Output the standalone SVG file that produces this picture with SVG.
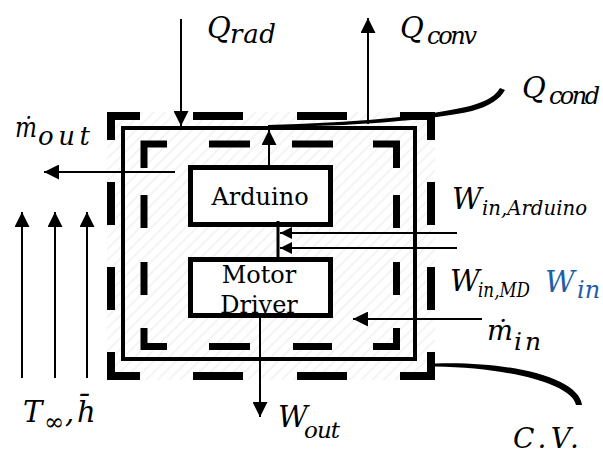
<svg xmlns="http://www.w3.org/2000/svg" width="603" height="454" viewBox="0 0 603 454">
<style>
  .m { font-family: "DejaVu Serif", "Liberation Serif", serif; font-style: italic; font-size: 29px; fill: #000; }
  .s { font-family: "DejaVu Serif", "Liberation Serif", serif; font-style: italic; font-size: 22px; fill: #000; }
  .blue { fill: #1F5FAA; }
  .bt { font-family: "DejaVu Serif", "Liberation Serif", serif; font-size: 24px; text-anchor: middle; fill: #000; }
  .cv-outer { fill: none; stroke: #000; stroke-width: 8; stroke-linejoin: miter; }
  .cv-inner { fill: none; stroke: #000; stroke-width: 7; stroke-linejoin: miter; }
  .solid { fill: none; stroke: #000; stroke-width: 4; }
  .box { fill: #fff; stroke: #000; stroke-width: 5; }
  .arr { fill: none; stroke: #000; stroke-width: 2; marker-end: url(#ah); }
  .arrs { fill: none; stroke: #000; stroke-width: 2; marker-end: url(#ahs); }
</style>
<defs>
  <marker id="ah" viewBox="0 0 10 10" refX="10" refY="5" markerWidth="15" markerHeight="15" markerUnits="userSpaceOnUse" orient="auto">
    <path d="M0,0 L10,5 L0,10 z" fill="#000"/>
  </marker>
  <marker id="ahs" viewBox="0 0 10 10" refX="10" refY="5" markerWidth="12" markerHeight="13" markerUnits="userSpaceOnUse" orient="auto">
    <path d="M0,0 L10,5 L0,10 z" fill="#000"/>
  </marker>
  <pattern id="hatch" patternUnits="userSpaceOnUse" width="8" height="8" patternTransform="rotate(-45)">
    <path d="M0,4 H8" stroke="#e9e9e9" stroke-width="1"/>
  </pattern>
</defs>
<rect width="603" height="454" fill="#fff"/>

<g id="control-volume">
  <rect x="107" y="112" width="328" height="268" fill="url(#hatch)"/>
  <path class="cv-outer" d="M111,140 V116 H140 M193,116 H243 M297,116 H347 M400,116 H431 V140 M431,182 V225 M431,267 V310 M431,352 V376 H400 M347,376 H297 M243,376 H193 M140,376 H111 V352 M111,310 V267 M111,225 V182"/>
  <rect class="solid" x="123" y="128" width="292" height="231"/>
  <path class="cv-inner" d="M144,168 V144 H167 M209,144 H250 M292,144 H333 M373,144 H396.5 V168 M396.5,195 V228 M396.5,262 V295 M396.5,328 V346.5 H373 M332,346.5 H293 M250,346.5 H209 M167,346.5 H144 V328 M144,295 V262 M144,228 V195"/>
</g>

<g id="arduino">
  <rect class="box" x="190.5" y="167.5" width="140" height="57"/>
  <text class="bt" x="260" y="205">Arduino</text>
</g>

<g id="motor-driver">
  <rect class="box" x="190.5" y="259.5" width="140" height="56"/>
  <text class="bt" x="259" y="283">Motor</text>
  <text class="bt" x="259" y="313">Driver</text>
</g>

<g id="connectors">
  <path class="arr" d="M181,19 V126"/>
  <path class="arr" d="M368,124 V18"/>
  <path d="M268,125 C350,123 430,116 470,106 C488,101 496,95 500,88 L505,90 C500,99 490,106 472,111 C432,120 350,126.5 268,127 Z" fill="#000"/>
  <path class="arr" d="M269,165 V130"/>
  <path class="arr" d="M175,172 H44"/>
  <path class="arr" d="M22,378 V212"/>
  <path class="arr" d="M55,378 V212"/>
  <path class="arr" d="M87,378 V212"/>
  <path d="M278,221 V258" stroke="#000" stroke-width="3"/>
  <path class="arrs" d="M457,233 H280"/>
  <path class="arrs" d="M457,248 H280"/>
  <path class="arr" d="M260,318 V417"/>
  <path class="arr" d="M482,319 H353"/>
  <path d="M435,363.5 C512,361 579,378 582,405 L576,405 C572,384 508,367.5 435,366.5 Z" fill="#000"/>
</g>

<g id="labels">
  <text class="m" x="207" y="38">Q</text><text class="s" x="230" y="43" style="font-size:26px" textLength="46">rad</text>
  <text class="m" x="400" y="38">Q</text><text class="s" x="427" y="44" style="font-size:24px" textLength="50">conv</text>
  <text class="m" x="522" y="98">Q</text><text class="s" x="549" y="104" style="font-size:24px" textLength="51">cond</text>
  <text class="m" x="15" y="137" style="font-size:27px" textLength="22" lengthAdjust="spacingAndGlyphs">ṁ</text><text class="s" x="38" y="145" style="font-size:26px" textLength="52">out</text>
  <text class="m" x="452" y="209">W</text><text class="s" x="482" y="215" style="font-size:21px" textLength="105" lengthAdjust="spacingAndGlyphs">in,Arduino</text>
  <text class="m" x="450" y="291">W</text><text class="s" x="478" y="297" style="font-size:21px" textLength="52" lengthAdjust="spacingAndGlyphs">in,MD</text>
  <text class="m blue" x="545" y="292">W</text><text class="s blue" x="577" y="298" style="font-size:24px">in</text>
  <text class="m" x="487" y="340" style="font-size:28px" textLength="26" lengthAdjust="spacingAndGlyphs">ṁ</text><text class="s" x="514" y="350" style="font-size:25px" textLength="27">in</text>
  <text class="m" x="278" y="427">W</text><text class="s" x="304" y="438" style="font-size:23px" textLength="36">out</text>
  <text class="m" x="23" y="422">T</text><text class="s" x="44" y="430" style="font-size:24px">∞</text><text class="m" x="65" y="422">,</text><text class="m" x="77" y="422">h̄</text>
  <text class="m" x="513" y="448" style="font-size:28px" textLength="66">C.V.</text>
</g>
</svg>
